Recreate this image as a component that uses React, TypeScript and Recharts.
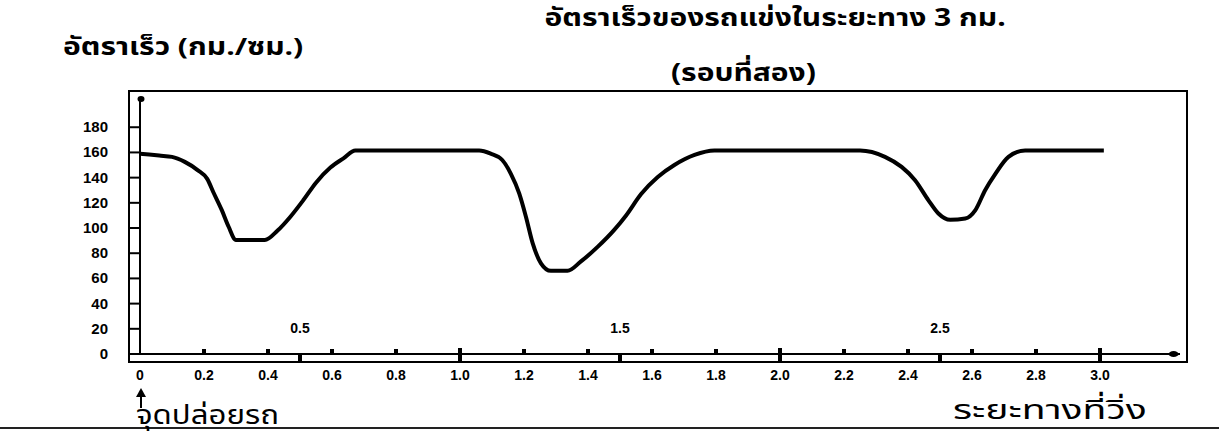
import React from "react";
import { LineChart, Line, XAxis, YAxis, ReferenceDot } from "recharts";

// distance (km) vs speed (km/h)
const distance = [
  0, 0.06, 0.1, 0.14, 0.18, 0.21, 0.23, 0.256, 0.277, 0.3, 0.39, 0.43, 0.47,
  0.51, 0.55, 0.595, 0.637, 0.673, 1.06, 1.096, 1.132, 1.159, 1.185, 1.206,
  1.227, 1.253, 1.284, 1.336, 1.378, 1.43, 1.482, 1.519, 1.566, 1.618, 1.67,
  1.733, 1.795, 2.25, 2.328, 2.38, 2.422, 2.464, 2.495, 2.532, 2.579, 2.61,
  2.641, 2.673, 2.714, 2.766, 3.012,
];
const speed = [
  159, 157.5, 156.5, 152.5, 146, 139, 128, 114, 101, 90.5, 90.5, 98, 109, 122,
  136, 148, 155.5, 161.5, 161.5, 159, 154, 143, 127.5, 109, 88, 72, 66, 66,
  73.5, 85, 98.5, 110, 127, 140.5, 150, 158, 161.5, 161.5, 156.5, 148.5,
  138, 122, 111.5, 106.5, 107.5, 114, 130, 143, 156.5, 161.5, 161.5,
];

const xTicks = [0, 0.2, 0.4, 0.5, 0.6, 0.8, 1.0, 1.2, 1.4, 1.5, 1.6, 1.8, 2.0, 2.2, 2.4, 2.5, 2.6, 2.8, 3.0];
const halfTicks = [0.5, 1.5, 2.5];
const yTicks = [0, 20, 40, 60, 80, 100, 120, 140, 160, 180];

const data = distance.map((d, i) => ({ d, v: speed[i] }));

const numFont = "'Liberation Sans', Arial, sans-serif";
const thaiFont = "'Noto Sans Thai', 'Noto Sans', 'DejaVu Sans', sans-serif";

const fmt = (v: number) => (v === 0 ? "0" : v.toFixed(1));

const XTick = (props: any) => {
  const { x, y, payload } = props;
  const v = payload.value as number;
  const half = halfTicks.includes(v);
  const whole = Number.isInteger(v) && v > 0;
  return (
    <g>
      {half && (
        <>
          <rect x={x - 2} y={y} width={4} height={9} fill="#000" />
          <text x={x} y={y - 21} textAnchor="middle" fontSize={14} fontWeight="bold" fontFamily={numFont} fill="#000">
            {fmt(v)}
          </text>
        </>
      )}
      {!half && v !== 0 && (
        <rect x={x - 2} y={y - (whole ? 6 : 5)} width={4} height={whole ? 15 : 5} fill="#000" />
      )}
      {!half && (
        <text x={x} y={y + 26} textAnchor="middle" fontSize={14} fontWeight="bold" fontFamily={numFont} fill="#000">
          {fmt(v)}
        </text>
      )}
    </g>
  );
};

const YTick = (props: any) => {
  const { x, y, payload } = props;
  return (
    <g>
      <line x1={x - 12} x2={x} y1={y} y2={y} stroke="#000" strokeWidth={2} />
      <text x={x - 32} y={y + 5} textAnchor="end" fontSize={15} fontWeight="bold" fontFamily={numFont} fill="#000">
        {payload.value}
      </text>
    </g>
  );
};

const label = (extra: React.CSSProperties): React.CSSProperties => ({
  position: "absolute",
  whiteSpace: "nowrap",
  fontFamily: thaiFont,
  lineHeight: "30px",
  color: "#000",
  ...extra,
});

const centered = (left: number, width: number, top: number) => (
  text: string
) => (
  <div style={label({ left, width, top, textAlign: "center", fontSize: 25, fontWeight: "bold" })}>
    <span style={{ display: "inline-block", transform: "scaleX(1.2)" }}>{text}</span>
  </div>
);

export default function App() {
  return (
    <div style={{ position: "absolute", left: 0, top: 0, width: 1219, height: 442, background: "#fff", overflow: "hidden" }}>
      {centered(330, 890, 3)("อัตราเร็วของรถแข่งในระยะทาง 3 กม.")}
      {centered(266, 954, 58)("(รอบที่สอง)")}
      <div style={label({ left: 63, top: 33, fontSize: 24, fontWeight: "bold", transform: "scaleX(1.25)", transformOrigin: "left center" })}>
        อัตราเร็ว (กม./ซม.)
      </div>

      <div style={{ position: "absolute", left: 128, top: 90, width: 1060, height: 273, border: "2px solid #000", boxSizing: "border-box" }} />

      <LineChart width={1219} height={442} data={data} margin={{ top: 97, right: 39, bottom: 58, left: 100 }} style={{ position: "absolute", left: 0, top: 0 }}>
        <XAxis
          dataKey="d"
          type="number"
          domain={[0, 3.25]}
          ticks={xTicks}
          interval={0}
          height={30}
          tickSize={0}
          tickMargin={0}
          tickLine={false}
          axisLine={{ stroke: "#000", strokeWidth: 2 }}
          tick={<XTick />}
        />
        <YAxis
          type="number"
          domain={[0, 204]}
          ticks={yTicks}
          interval={0}
          width={40}
          tickSize={0}
          tickMargin={0}
          tickLine={false}
          axisLine={{ stroke: "#000", strokeWidth: 2 }}
          tick={<YTick />}
        />
        <ReferenceDot x={0} y={204} ifOverflow="visible" shape={(p: any) => <ellipse cx={p.cx + 1} cy={p.cy + 2} rx={3.5} ry={3} fill="#000" />} />
        <ReferenceDot x={3.23} y={0} ifOverflow="visible" shape={(p: any) => <ellipse cx={p.cx} cy={p.cy} rx={5} ry={3} fill="#000" />} />
        <Line dataKey="v" type="monotone" stroke="#000" strokeWidth={4} dot={false} isAnimationActive={false} />
      </LineChart>

      <svg width={20} height={30} style={{ position: "absolute", left: 131, top: 386 }}>
        <polygon points="10,2 5,11 15,11" fill="#000" />
        <line x1={10} y1={9} x2={10} y2={22} stroke="#000" strokeWidth={2} />
      </svg>
      <div style={{ position: "absolute", left: 0, top: 427, width: 1219, height: 2, background: "#222" }} />
      <div style={label({ left: 136, top: 401, fontSize: 26, transform: "scaleX(1.2)", transformOrigin: "left center" })}>
        จุดปล่อยรถ
      </div>
      <div style={label({ left: 953, top: 396, fontSize: 27, transform: "scaleX(1.45)", transformOrigin: "left center" })}>
        ระยะทางที่วิ่ง
      </div>
    </div>
  );
}
